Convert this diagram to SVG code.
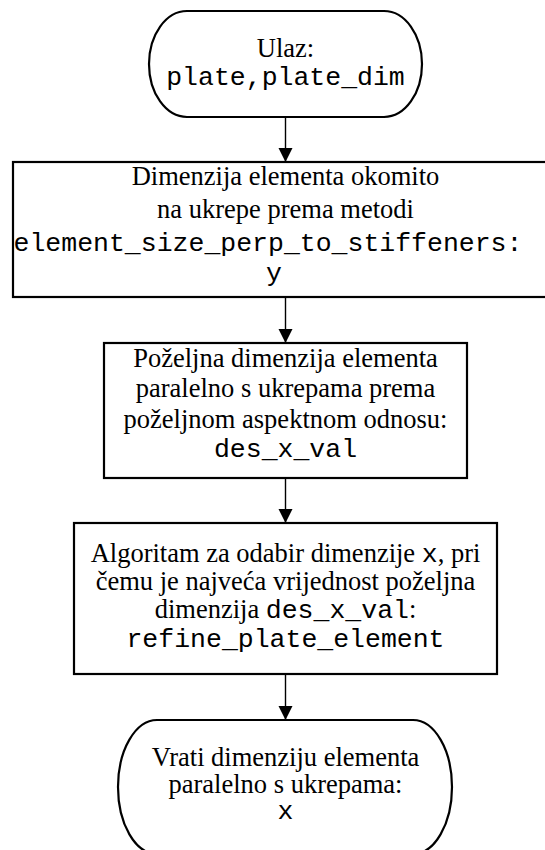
<svg xmlns="http://www.w3.org/2000/svg" width="545" height="850" viewBox="0 0 545 850">
<style>
.shape{fill:#fff;stroke:#000;stroke-width:2.2}
.t{font-family:"Liberation Serif","Times New Roman",serif;font-size:26.5px;fill:#000;text-anchor:middle}
.m{font-family:"Liberation Mono","Courier New",monospace}
.conn line{stroke:#000;stroke-width:1.4}
</style>
<defs>
<marker id="ah" markerWidth="14" markerHeight="17" refX="14" refY="8.5" orient="auto" markerUnits="userSpaceOnUse">
<polygon points="0,1.5 14,8.5 0,15.5" fill="#000"/>
</marker>
</defs>
<rect width="545" height="850" fill="#fff"/>
<g id="connectors" class="conn">
<line x1="285.5" y1="117" x2="285.5" y2="162" marker-end="url(#ah)"/>
<line x1="285.5" y1="297" x2="285.5" y2="343" marker-end="url(#ah)"/>
<line x1="285.5" y1="478" x2="285.5" y2="523" marker-end="url(#ah)"/>
<line x1="285.5" y1="674" x2="285.5" y2="720" marker-end="url(#ah)"/>
</g>
<g id="start">
<rect class="shape" x="149" y="11" width="273" height="106" rx="38" ry="53"/>
<text class="t" x="285.5" y="57">Ulaz:</text>
<text class="t m" x="285.5" y="85">plate,plate_dim</text>
</g>
<g id="step1">
<rect class="shape" x="13" y="162" width="545" height="135"/>
<text class="t" x="285.5" y="185">Dimenzija elementa okomito</text>
<text class="t" x="285.5" y="218">na ukrepe prema metodi</text>
<text class="t m" x="268" y="251">element_size_perp_to_stiffeners:</text>
<text class="t m" x="274" y="281">y</text>
</g>
<g id="step2">
<rect class="shape" x="104" y="343" width="363" height="135"/>
<text class="t" x="285.5" y="367">Poželjna dimenzija elementa</text>
<text class="t" x="285.5" y="397">paralelno s ukrepama prema</text>
<text class="t" x="285.5" y="428">poželjnom aspektnom odnosu:</text>
<text class="t m" x="285.5" y="457">des_x_val</text>
</g>
<g id="step3">
<rect class="shape" x="74" y="523" width="423" height="151"/>
<text class="t" x="285.5" y="562">Algoritam za odabir dimenzije <tspan class="m">x</tspan>, pri</text>
<text class="t" x="285.5" y="590">čemu je najveća vrijednost poželjna</text>
<text class="t" x="285.5" y="618">dimenzija <tspan class="m">des_x_val</tspan>:</text>
<text class="t m" x="285.5" y="647">refine_plate_element</text>
</g>
<g id="end">
<rect class="shape" x="118" y="720" width="334" height="134" rx="39" ry="67"/>
<text class="t" x="285.5" y="766">Vrati dimenziju elementa</text>
<text class="t" x="285.5" y="793">paralelno s ukrepama:</text>
<text class="t m" x="285.5" y="819">x</text>
</g>
</svg>
